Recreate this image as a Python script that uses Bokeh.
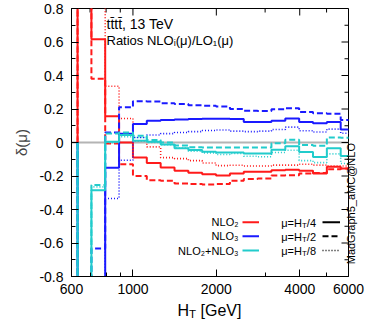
import math
from bokeh.plotting import figure
from bokeh.models import Range1d, FixedTicker, Label, Span, LinearAxis
from bokeh.layouts import column
from bokeh.core.properties import value
from bokeh.embed import file_html
from bokeh.resources import INLINE

# ---------------- data ----------------
bin_edges = [631, 708, 794, 891, 1000, 1122, 1259, 1413, 1585, 1778, 1995,
             2239, 2512, 2818, 3162, 3548, 3981, 4467, 5012, 5623, 6310]

nlo2_ht4 = [1.5, 0.617, 0.157, 0.0, -0.09, -0.122, -0.149, -0.169, -0.181, -0.189,
            -0.197, -0.185, -0.175, -0.175, -0.165, -0.163, -0.168, -0.185, -0.145, -0.155]
nlo2_ht2 = [1.5, 0.38, -0.006, -0.13, -0.2, -0.225, -0.228, -0.245, -0.248, -0.25,
            -0.248, -0.228, -0.218, -0.215, -0.197, -0.195, -0.185, -0.182, -0.16, -0.155]
nlo2_ht8 = [1.5, 1.5, 0.336, 0.143, 0.01, -0.026, -0.09, -0.096, -0.108, -0.122,
            -0.138, -0.136, -0.14, -0.14, -0.135, -0.135, -0.13, -0.135, -0.14, -0.14]

nlo3_ht4 = [-1.5, -1.5, -0.15, 0.052, 0.11, 0.13, 0.135, 0.138, 0.14, 0.142,
            0.142, 0.14, 0.123, 0.122, 0.13, 0.143, 0.123, 0.115, 0.122, 0.078]
nlo3_ht2 = [-1.5, -0.633, 0.06, 0.21, 0.247, 0.245, 0.235, 0.23, 0.222, 0.22,
            0.215, 0.2, 0.19, 0.188, 0.198, 0.205, 0.182, 0.175, 0.172, 0.135]
nlo3_ht8 = [-1.5, -1.5, -0.334, -0.106, 0.03, 0.045, 0.053, 0.06, 0.065, 0.072,
            0.075, 0.068, 0.065, 0.068, 0.078, 0.092, 0.07, 0.063, 0.08, 0.055]

nlo23_ht4 = [-1.5, -0.285, 0.005, 0.045, 0.01, 0.005, -0.012, -0.035, -0.045, -0.055,
             -0.06, -0.06, -0.066, -0.066, -0.044, -0.023, -0.056, -0.086, -0.034, -0.08]
nlo23_ht2 = [-1.5, -0.253, 0.054, 0.06, 0.04, 0.015, 0.0, -0.018, -0.028, -0.03,
             -0.03, -0.03, -0.03, -0.03, -0.005, 0.016, -0.015, -0.02, 0.03, 0.028]
nlo23_ht8 = [-1.5, -0.265, 0.0, 0.035, 0.03, 0.0, -0.013, -0.033, -0.052, -0.062,
             -0.072, -0.066, -0.082, -0.085, -0.06, -0.046, -0.108, -0.12, -0.068, -0.125]

xtick_vals = [600, 1000, 2000, 4000, 6000]
xtick_labels = ["600", "1000", "2000", "4000", "6000"]
xtick_minor = [700, 800, 900, 3000, 5000]
ytick_vals = [-0.8, -0.6, -0.4, -0.2, 0.0, 0.2, 0.4, 0.6, 0.8]
ytick_labels = ["-0.8", "-0.6", "-0.4", "-0.2", "0", "0.2", "0.4", "0.6", "0.8"]
ytick_minor = [-0.7, -0.5, -0.3, -0.1, 0.1, 0.3, 0.5, 0.7]

order_names = ["NLO\u2082", "NLO\u2083", "NLO\u2082+NLO\u2083"]
scale_tails = ["/4", "/2", "/8"]

# ---------------- layout ----------------
FONT = "Liberation Sans"
RED, BLUE, CYAN = "#ff1a1a", "#1a1aff", "#22cccc"
X0, X1, Y0, Y1 = 600, 6000, -0.8, 0.8
BL, BT, FW, FH, BB, BR = 71, 8, 277, 268, 23, 18
FL, FT = BL, BT                 # frame left/top in page px (page has no margin)
FR, FB = FL + FW, FT + FH
MAIN_H = BT + FH + BB
STRIP_W = 295                   # strip frame is aligned with the main frame's left edge
BOT_H = 328 - MAIN_H

def X(px):
    return X0 * 10 ** ((px - FL) / FW * math.log10(X1 / X0))

def Y(py):
    return Y1 - (py - FT) / FH * (Y1 - Y0)

p = figure(frame_width=FW, frame_height=FH, min_border_left=BL, min_border_top=BT,
           min_border_right=BR, min_border_bottom=BB,
           x_axis_type="log", x_range=Range1d(X0, X1), y_range=Range1d(Y0, Y1),
           output_backend="svg", toolbar_location=None)
p.grid.visible = False
p.outline_line_color = "black"
p.outline_line_width = 1
p.align = "start"

MAJ, MIN = 7, 4


def style_axis(ax, ticks, minor, labels):
    ax.ticker = FixedTicker(ticks=ticks, minor_ticks=minor)
    ax.major_label_overrides = dict(zip(ticks, labels))
    ax.major_tick_in = MAJ
    ax.major_tick_out = 0
    ax.minor_tick_in = MIN
    ax.minor_tick_out = 0
    ax.axis_line_color = "black"
    ax.major_tick_line_color = "black"
    ax.minor_tick_line_color = "black"
    ax.major_label_text_font = FONT
    ax.major_label_text_color = "black"
    ax.major_label_text_font_size = "14px"


xa = p.below[0]
ya = p.left[0]
style_axis(xa, xtick_vals, xtick_minor, xtick_labels)
xa.major_label_standoff = 7
style_axis(ya, ytick_vals, ytick_minor, ytick_labels)
ya.major_label_standoff = 8
ya.axis_label = "\u03b4(\u03bc)"
ya.axis_label_text_font = FONT
ya.axis_label_text_font_style = "normal"
ya.axis_label_text_font_size = "15px"
ya.axis_label_standoff = 6

# right-hand axis used only to carry the rotated generator tag
props = LinearAxis.properties()
tag_text = "MadGraph5_aMC@NLO"
tag_axis = LinearAxis(ticker=FixedTicker(ticks=[]), axis_line_color=None,
                      major_tick_in=0, major_tick_out=0, minor_tick_in=0, minor_tick_out=0,
                      major_label_standoff=0, axis_label_standoff=2,
                      axis_label_text_font=FONT, axis_label_text_font_style="normal",
                      axis_label_text_font_size="11px", axis_label_text_color="black")
if "axis_label_orientation" in props:
    tag_axis.axis_label_orientation = math.pi / 2
if "axis_label_align" in props:
    tag_axis.axis_label_align = "start"
    tag_text = "\u00a0" * 4 + tag_text
tag_axis.axis_label = tag_text
p.add_layout(tag_axis, "right")

# mirrored inward ticks on the top and right edges of the frame
for vals, ln in ((xtick_vals, MAJ), (xtick_minor, MIN)):
    p.segment(x0=vals, y0=[Y1] * len(vals), x1=vals, y1=[Y(FT + ln)] * len(vals),
              line_color="black", line_width=1)
for vals, ln in ((ytick_vals, MAJ), (ytick_minor, MIN)):
    p.segment(x0=[X1] * len(vals), y0=vals, x1=[X(FR - ln)] * len(vals), y1=vals,
              line_color="black", line_width=1)

p.add_layout(Span(location=0, dimension="width", line_color="#b4b4b4",
                  line_width=2, level="underlay"))


def step_xy(edges, vals):
    xs, ys = [edges[0]], [0.0]
    for i, v in enumerate(vals):
        xs += [edges[i], edges[i + 1]]
        ys += [v, v]
    return xs, ys


DASHES = ["solid", "6 3", "1 2"]
WIDTHS = [2, 2, 1.6]
series = [(RED, [nlo2_ht4, nlo2_ht2, nlo2_ht8]),
          (BLUE, [nlo3_ht4, nlo3_ht2, nlo3_ht8]),
          (CYAN, [nlo23_ht4, nlo23_ht2, nlo23_ht8])]
for color, sets in series:
    for vals, dash, w in zip(sets, DASHES, WIDTHS):
        xs, ys = step_xy(bin_edges, vals)
        p.line(xs, ys, line_color=color, line_width=w, line_dash=dash)


def label(px, py, text, size, align="left", baseline="alphabetic", angle=0.0):
    p.add_layout(Label(x=X(px), y=Y(py), text=text, text_font=FONT,
                       text_font_size=f"{size}px", text_align=align,
                       text_baseline=baseline, angle=angle, text_color="black"))


# in-plot title texts
label(106, 23.5, "tt\u0304tt\u0304, 13 TeV", 14)
label(106, 39.5, "Ratios NLO\u1d62(\u03bc)/LO\u2081(\u03bc)", 13)

# legend
rows = [221.7, 235.7, 250]
for name, color, ry in zip(order_names, [RED, BLUE, CYAN], rows):
    label(238, ry, name, 11, align="right", baseline="middle")
    p.line([X(242), X(258.5)], [Y(ry), Y(ry)], line_color=color, line_width=2)

LF = 11
for tail, dash, w, ry in zip(scale_tails, DASHES, WIDTHS, rows):
    xr = 315.5
    w_tail = 0.834 * LF
    w_t = 0.611 * LF * 0.72
    label(xr, ry + 0.5, tail, LF, align="right", baseline="middle")
    label(xr - w_tail, ry + 3, "T", LF * 0.72, align="right", baseline="middle")
    label(xr - w_tail - w_t, ry + 0.5, "\u03bc=H", LF, align="right", baseline="middle")
    p.line([X(322), X(339.5)], [Y(ry), Y(ry)], line_color="black", line_width=w, line_dash=dash)

# ---------------- x-axis title strip (H_T with a real subscript) ----------------
bot = figure(frame_width=STRIP_W, frame_height=BOT_H, x_range=Range1d(0, STRIP_W),
             y_range=Range1d(0, BOT_H), output_backend="svg", toolbar_location=None,
             min_border=0, min_border_left=0, min_border_right=0, min_border_top=0,
             min_border_bottom=0, x_axis_location=None, y_axis_location=None)
bot.grid.visible = False
bot.outline_line_color = None
bot.align = "start"


def bx(px):
    return px - FL


def by(py):
    return BOT_H - (py - MAIN_H)


XF = 16
x_start = 177
base = 309.5
w_h = 0.722 * XF
w_sub = 0.611 * XF * 0.72
w_space = 0.278 * XF
bot.text(x=[bx(x_start)], y=[by(base)], text=["H"], text_font=value(FONT),
         text_font_size=f"{XF}px", text_baseline="alphabetic", text_color="black")
bot.text(x=[bx(x_start + w_h)], y=[by(base + 3.5)], text=["T"], text_font=value(FONT),
         text_font_size=f"{XF * 0.72:.1f}px", text_baseline="alphabetic", text_color="black")
bot.text(x=[bx(x_start + w_h + w_sub + w_space)], y=[by(base)], text=["[GeV]"],
         text_font=value(FONT), text_font_size=f"{XF}px", text_baseline="alphabetic",
         text_color="black")

layout = column(p, bot, spacing=0)
open("out.html", "w").write(file_html(layout, INLINE))
